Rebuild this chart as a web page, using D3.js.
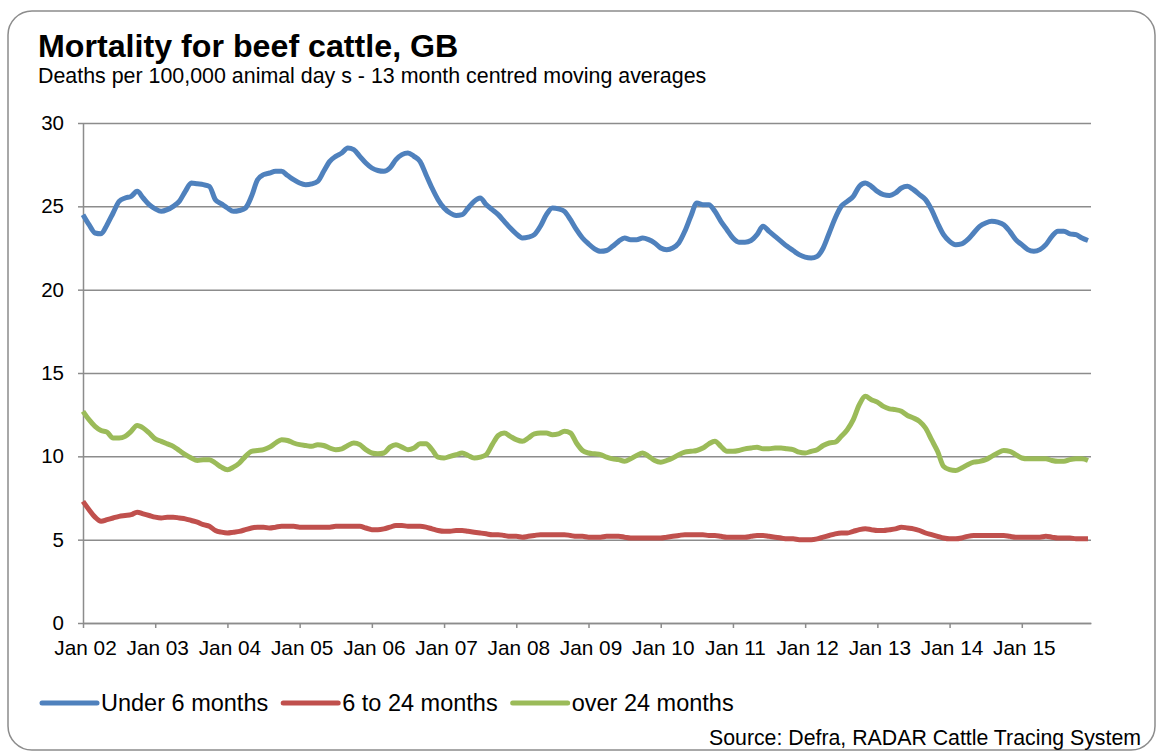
<!DOCTYPE html>
<html>
<head>
<meta charset="utf-8">
<script src="https://cdn.jsdelivr.net/npm/d3@7"></script>
<style>
  body { margin: 0; background: #fff; }
  svg { display: block; font-family: "Liberation Sans", Arial, sans-serif; }
</style>
</head>
<body>
<svg id="chart" width="1156" height="751"></svg>
<script>
// Tick labels, one per January
var yearLabels = ["Jan 02", "Jan 03", "Jan 04", "Jan 05", "Jan 06", "Jan 07", "Jan 08",
  "Jan 09", "Jan 10", "Jan 11", "Jan 12", "Jan 13", "Jan 14", "Jan 15"];
var yTicks = [0, 5, 10, 15, 20, 25, 30];

// Monthly values, Jan 02 .. Dec 15
var under6 = [
  24.5, 23.9, 23.4, 23.35, 23.9, 24.6, 25.3, 25.5, 25.6, 25.9, 25.5, 25.1,
  24.85, 24.7, 24.8, 25.0, 25.3, 25.9, 26.4, 26.35, 26.3, 26.2, 25.4, 25.15,
  24.9, 24.7, 24.75, 24.9, 25.6, 26.6, 26.9, 27.0, 27.1, 27.1, 26.85, 26.6,
  26.4, 26.3, 26.35, 26.5, 27.1, 27.7, 28.0, 28.2, 28.5, 28.4, 28.0, 27.6,
  27.3, 27.15, 27.1, 27.3, 27.8, 28.1, 28.2, 28.0, 27.7, 26.9, 26.1, 25.4,
  24.9, 24.6, 24.45, 24.5, 24.9, 25.3, 25.5, 25.1, 24.8, 24.5, 24.1, 23.7,
  23.35, 23.1, 23.15, 23.3, 23.8, 24.5, 24.9, 24.85, 24.7, 24.2, 23.6, 23.1,
  22.75, 22.45, 22.3, 22.35, 22.6, 22.9, 23.1, 23.0, 23.0, 23.1, 23.0, 22.8,
  22.5, 22.4, 22.5, 22.8, 23.5, 24.4, 25.2, 25.1, 25.1, 24.7, 24.1, 23.6,
  23.1, 22.85, 22.85, 22.95, 23.3, 23.8, 23.5, 23.2, 22.9, 22.6, 22.35, 22.1,
  21.95, 21.9, 22.0, 22.5, 23.4, 24.3, 25.0, 25.3, 25.6, 26.2, 26.4, 26.2,
  25.9, 25.7, 25.65, 25.8, 26.1, 26.2, 26.0, 25.7, 25.4, 24.8, 24.0, 23.3,
  22.9, 22.7, 22.75, 23.0, 23.4, 23.8, 24.0, 24.1, 24.05, 23.9, 23.5, 23.0,
  22.7, 22.4, 22.3, 22.4, 22.7, 23.2, 23.5, 23.5, 23.35, 23.3, 23.1, 22.95
];
var from6to24 = [
  7.3, 6.8, 6.35, 6.1, 6.2, 6.3, 6.4, 6.45, 6.5, 6.65, 6.55, 6.45,
  6.35, 6.3, 6.35, 6.35, 6.3, 6.25, 6.15, 6.05, 5.9, 5.8, 5.55, 5.45,
  5.4, 5.45, 5.5, 5.6, 5.7, 5.75, 5.75, 5.7, 5.75, 5.8, 5.8, 5.8,
  5.75, 5.75, 5.75, 5.75, 5.75, 5.75, 5.8, 5.8, 5.8, 5.8, 5.8, 5.7,
  5.6, 5.6, 5.65, 5.75, 5.85, 5.85, 5.8, 5.8, 5.8, 5.75, 5.65, 5.55,
  5.5, 5.5, 5.55, 5.55, 5.5, 5.45, 5.4, 5.35, 5.3, 5.3, 5.25, 5.2,
  5.2, 5.15, 5.2, 5.25, 5.3, 5.3, 5.3, 5.3, 5.3, 5.25, 5.2, 5.2,
  5.15, 5.15, 5.15, 5.2, 5.2, 5.2, 5.15, 5.1, 5.1, 5.1, 5.1, 5.1,
  5.1, 5.15, 5.2, 5.25, 5.3, 5.3, 5.3, 5.3, 5.25, 5.25, 5.2, 5.15,
  5.15, 5.15, 5.15, 5.2, 5.25, 5.25, 5.2, 5.15, 5.1, 5.05, 5.05, 5.0,
  5.0, 5.0, 5.05, 5.15, 5.25, 5.35, 5.4, 5.4, 5.5, 5.6, 5.65, 5.6,
  5.55, 5.55, 5.6, 5.65, 5.75, 5.7, 5.65, 5.55, 5.4, 5.3, 5.2, 5.1,
  5.05, 5.05, 5.1, 5.2, 5.25, 5.25, 5.25, 5.25, 5.25, 5.25, 5.2, 5.15,
  5.15, 5.15, 5.15, 5.15, 5.2, 5.15, 5.1, 5.1, 5.1, 5.05, 5.05, 5.05
];
var over24 = [
  12.7, 12.2, 11.8, 11.55, 11.45, 11.1, 11.1, 11.2, 11.5, 11.85, 11.7, 11.4,
  11.05, 10.9, 10.75, 10.6, 10.35, 10.1, 9.9, 9.75, 9.8, 9.8, 9.6, 9.35,
  9.2, 9.35, 9.6, 10.0, 10.3, 10.35, 10.4, 10.55, 10.8, 11.0, 10.95, 10.8,
  10.7, 10.65, 10.6, 10.7, 10.65, 10.5, 10.4, 10.45, 10.65, 10.8, 10.7, 10.4,
  10.2, 10.15, 10.2, 10.55, 10.7, 10.55, 10.4, 10.5, 10.75, 10.75, 10.4, 9.95,
  9.9, 10.0, 10.1, 10.2, 10.05, 9.9, 9.95, 10.1, 10.7, 11.25, 11.4, 11.2,
  11.0, 10.9, 11.1, 11.35, 11.4, 11.4, 11.3, 11.35, 11.5, 11.4, 10.8, 10.35,
  10.2, 10.15, 10.1, 9.95, 9.85, 9.8, 9.7, 9.85, 10.05, 10.2, 10.0, 9.75,
  9.65, 9.75, 9.9, 10.1, 10.25, 10.3, 10.35, 10.5, 10.75, 10.9, 10.6, 10.3,
  10.3, 10.35, 10.45, 10.5, 10.55, 10.45, 10.45, 10.5, 10.5, 10.45, 10.4, 10.25,
  10.2, 10.3, 10.4, 10.65, 10.8, 10.85, 11.2, 11.6, 12.2, 13.1, 13.6, 13.4,
  13.25, 13.0, 12.85, 12.8, 12.7, 12.45, 12.3, 12.1, 11.7, 11.0, 10.3, 9.4,
  9.2, 9.15, 9.3, 9.5, 9.65, 9.7, 9.8, 10.0, 10.2, 10.35, 10.3, 10.1,
  9.9, 9.85, 9.85, 9.85, 9.85, 9.75, 9.7, 9.7, 9.8, 9.85, 9.85, 9.75
];

var seriesNames = ["Under 6 months", "6 to 24 months", "over 24 months"];
var seriesColors = ["#4f81bd", "#c0504d", "#9bbb59"];

var svg = d3.select("#chart");
var font = "'Liberation Sans', Arial, sans-serif";

// Outer frame
svg.append("rect")
  .attr("x", 8).attr("y", 11)
  .attr("width", 1147).attr("height", 739)
  .attr("rx", 24).attr("ry", 24)
  .attr("fill", "#fff")
  .attr("stroke", "#8c8c8c")
  .attr("stroke-width", 1.5);

// Titles
svg.append("text")
  .attr("x", 38).attr("y", 57)
  .attr("font-size", 32.2).attr("font-weight", "bold")
  .attr("fill", "#000")
  .text("Mortality for beef cattle, GB");
svg.append("text")
  .attr("x", 38).attr("y", 83)
  .attr("font-size", 21.4).attr("fill", "#000")
  .text("Deaths per 100,000 animal day s - 13 month centred moving averages");

// Scales
var x = d3.scaleLinear().domain([0, 167.5]).range([83, 1091]);
var y = d3.scaleLinear().domain([0, 30]).range([623, 123]);

// Gridlines
svg.append("g")
  .attr("transform", "translate(83,0)")
  .call(d3.axisLeft(y).tickValues(yTicks).tickSize(-(1091 - 83)).tickFormat(""))
  .call(function(g) { g.select(".domain").remove(); })
  .selectAll("line")
    .attr("stroke", "#8c8c8c")
    .attr("stroke-width", 1.5);

// Y axis
var yAxis = svg.append("g")
  .attr("transform", "translate(83,0)")
  .call(d3.axisLeft(y).tickValues(yTicks).tickSize(5).tickPadding(14).tickSizeOuter(0));
yAxis.select(".domain").attr("stroke", "#8c8c8c").attr("stroke-width", 1.5);
yAxis.selectAll("line").attr("stroke", "#8c8c8c").attr("stroke-width", 1.5);
yAxis.selectAll("text")
  .attr("font-size", 20.5).attr("font-family", font).attr("fill", "#000");

// X axis
var xAxis = svg.append("g")
  .attr("transform", "translate(0,623)")
  .call(d3.axisBottom(x)
    .tickValues(d3.range(0, yearLabels.length * 12, 12))
    .tickFormat(function(d) { return yearLabels[d / 12]; })
    .tickSize(5).tickPadding(12).tickSizeOuter(0));
xAxis.select(".domain").attr("stroke", "#8c8c8c").attr("stroke-width", 1.5);
xAxis.selectAll("line").attr("stroke", "#8c8c8c").attr("stroke-width", 1.5);
xAxis.selectAll("text")
  .attr("font-size", 20.8).attr("font-family", font).attr("fill", "#000")
  .attr("dx", 2);

// Lines
var line = d3.line()
  .x(function(d, i) { return x(i); })
  .y(function(d) { return y(d); })
  .curve(d3.curveMonotoneX);

[under6, from6to24, over24].forEach(function(values, k) {
  svg.append("path")
    .datum(values)
    .attr("fill", "none")
    .attr("stroke", seriesColors[k])
    .attr("stroke-width", 5)
    .attr("stroke-linejoin", "round")
    .attr("d", line);
});

// Legend
var lx = 42;
seriesNames.forEach(function(name, k) {
  svg.append("line")
    .attr("x1", lx).attr("x2", lx + 55)
    .attr("y1", 703).attr("y2", 703)
    .attr("stroke", seriesColors[k])
    .attr("stroke-width", 5)
    .attr("stroke-linecap", "round");
  var t = svg.append("text")
    .attr("x", lx + 59).attr("y", 711)
    .attr("font-size", 23.5).attr("fill", "#000")
    .text(name);
  lx += 59 + t.node().getComputedTextLength() + 15;
});

// Source note
svg.append("text")
  .attr("x", 1141).attr("y", 745)
  .attr("text-anchor", "end")
  .attr("font-size", 21.3).attr("fill", "#000")
  .text("Source: Defra, RADAR Cattle Tracing System");
</script>
</body>
</html>
